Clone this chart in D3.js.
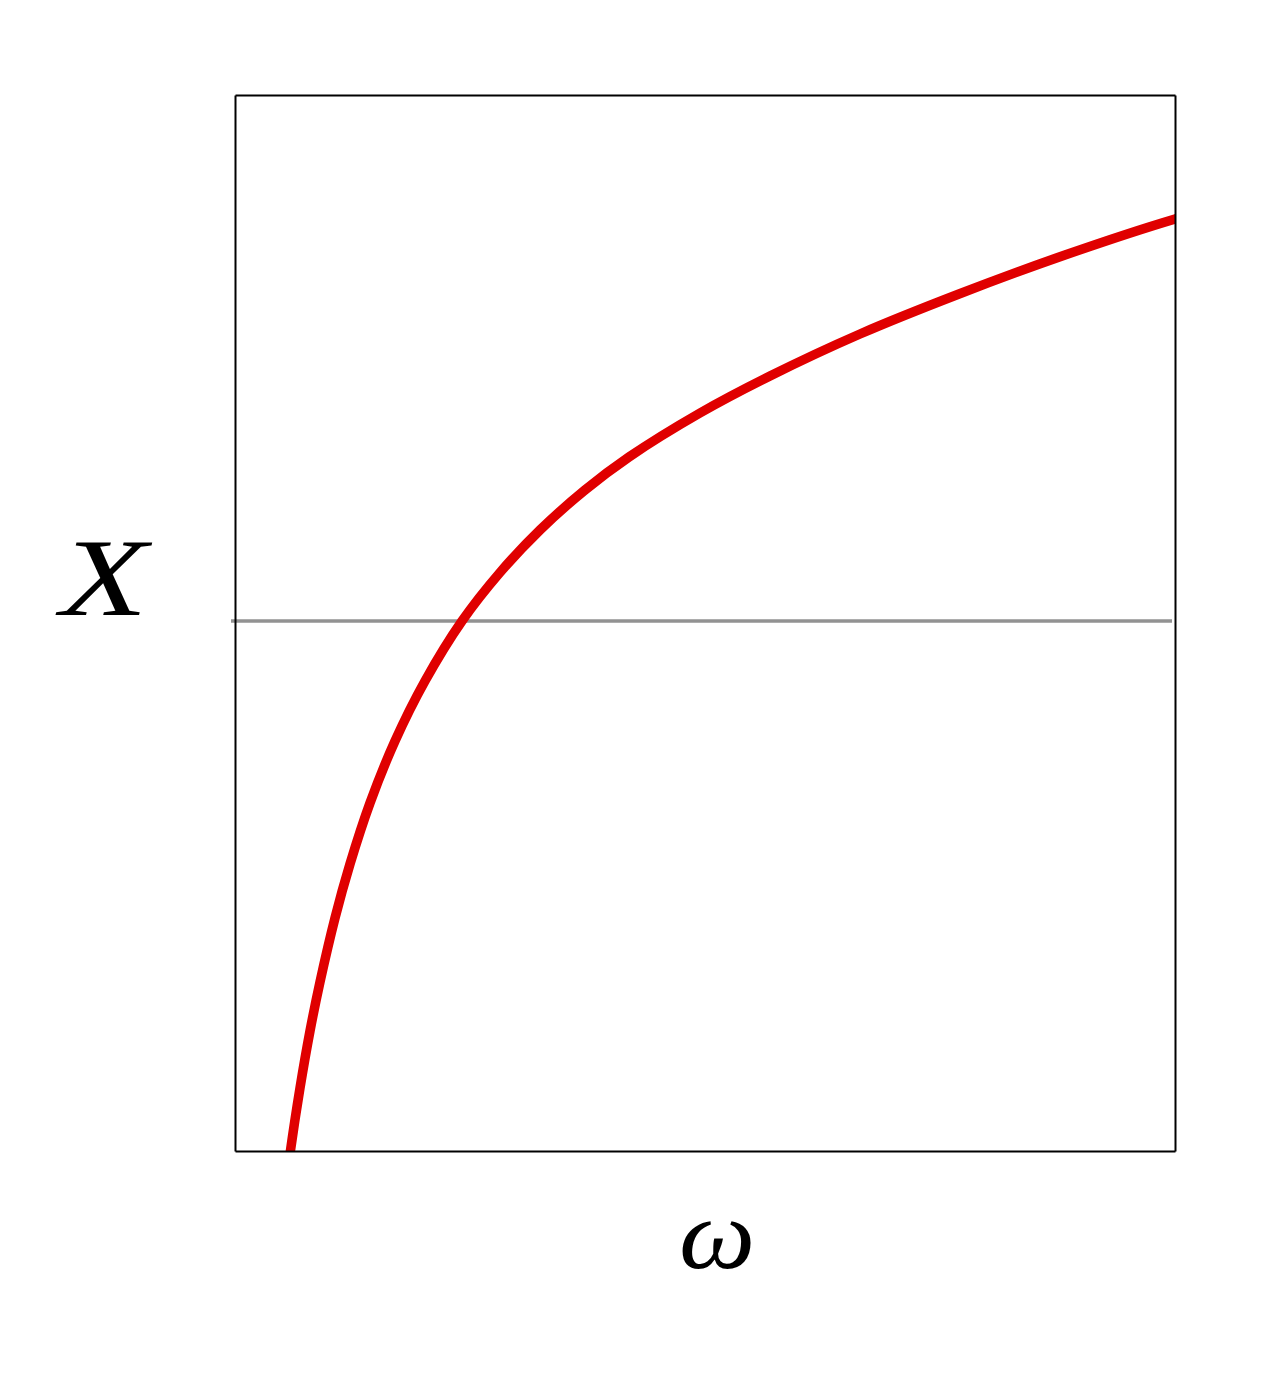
<!DOCTYPE html>
<html>
<head>
<meta charset="utf-8">
<script src="https://cdn.jsdelivr.net/npm/d3@7"></script>
<style>
  html, body { margin: 0; padding: 0; background: #fff; }
  svg { display: block; }
</style>
</head>
<body>
<div id="chart"></div>
<script>
// frequency (omega) and reactance (X)
var omega = [0.52, 0.55, 0.65, 0.75, 0.85, 1.00, 1.15, 1.35, 1.60, 1.90, 2.27,
             2.65, 3.05, 3.50, 3.94, 4.65, 5.35, 6.25, 7.24, 8.30, 9.40, 9.55];
var reactance = [-5.57, -5.33, -4.67, -4.10, -3.61, -2.97, -2.43, -1.82, -1.20, -0.60, 0.00,
                 0.485, 0.91, 1.31, 1.64, 2.08, 2.45, 2.87, 3.27, 3.66, 4.02, 4.06];
var xLabel = "\u03c9";
var yLabel = "X";

// size settings
var tot_width = 1280, tot_height = 1373;
var margin = {top: 95, right: 105, bottom: 222, left: 235};
var width = tot_width - margin.left - margin.right,
    height = tot_height - margin.top - margin.bottom;

var svg = d3.select("#chart").append("svg")
    .attr("width", tot_width)
    .attr("height", tot_height);

svg.append("rect").attr("width", tot_width).attr("height", tot_height).attr("fill", "#fff");

var g = svg.append("g")
    .attr("transform", "translate(" + margin.left + "," + margin.top + ")");

var x = d3.scaleLinear().domain([0, 9.4]).range([0, width]);
var y = d3.scaleLinear().domain([-5.3, 5.26]).range([height, 0]);

// clip the curve to the frame
g.append("clipPath").attr("id", "frame-clip")
  .append("rect")
    .attr("x", x.range()[0]).attr("y", y.range()[1])
    .attr("width", width).attr("height", height);

// zero line
g.append("line")
    .attr("x1", x(-0.04)).attr("x2", x(9.37))
    .attr("y1", y(0)).attr("y2", y(0))
    .attr("stroke", "#929292")
    .attr("stroke-width", 3.5);

var data = omega.map(function(w, i) { return {w: w, v: reactance[i]}; });

var line = d3.line()
    .x(function(d) { return x(d.w); })
    .y(function(d) { return y(d.v); })
    .curve(d3.curveCatmullRom.alpha(0.5));

g.append("path")
    .datum(data)
    .attr("clip-path", "url(#frame-clip)")
    .attr("fill", "none")
    .attr("stroke", "#e00000")
    .attr("stroke-width", 9.5)
    .attr("d", line);

// frame, drawn as axes with no ticks
g.append("g").call(d3.axisTop(x).tickValues([]).tickSizeOuter(0));
g.append("g").attr("transform", "translate(0," + height + ")")
  .call(d3.axisBottom(x).tickValues([]).tickSizeOuter(0));
g.append("g").call(d3.axisLeft(y).tickValues([]).tickSizeOuter(0));
g.append("g").attr("transform", "translate(" + width + ",0)")
  .call(d3.axisRight(y).tickValues([]).tickSizeOuter(0));
g.selectAll(".domain").attr("stroke", "#000").attr("stroke-width", 2);

// axis titles
svg.append("text")
    .attr("transform", "translate(717,1268) scale(1.08,1)")
    .attr("text-anchor", "middle")
    .attr("font-family", "'Liberation Serif', 'Times New Roman', serif")
    .attr("font-style", "italic")
    .attr("font-size", 100)
    .text(xLabel);

svg.append("text")
    .attr("transform", "translate(104,615) scale(1.3,1)")
    .attr("text-anchor", "middle")
    .attr("font-family", "'Liberation Serif', 'Times New Roman', serif")
    .attr("font-style", "italic")
    .attr("font-size", 110)
    .text(yLabel);
</script>
</body>
</html>
